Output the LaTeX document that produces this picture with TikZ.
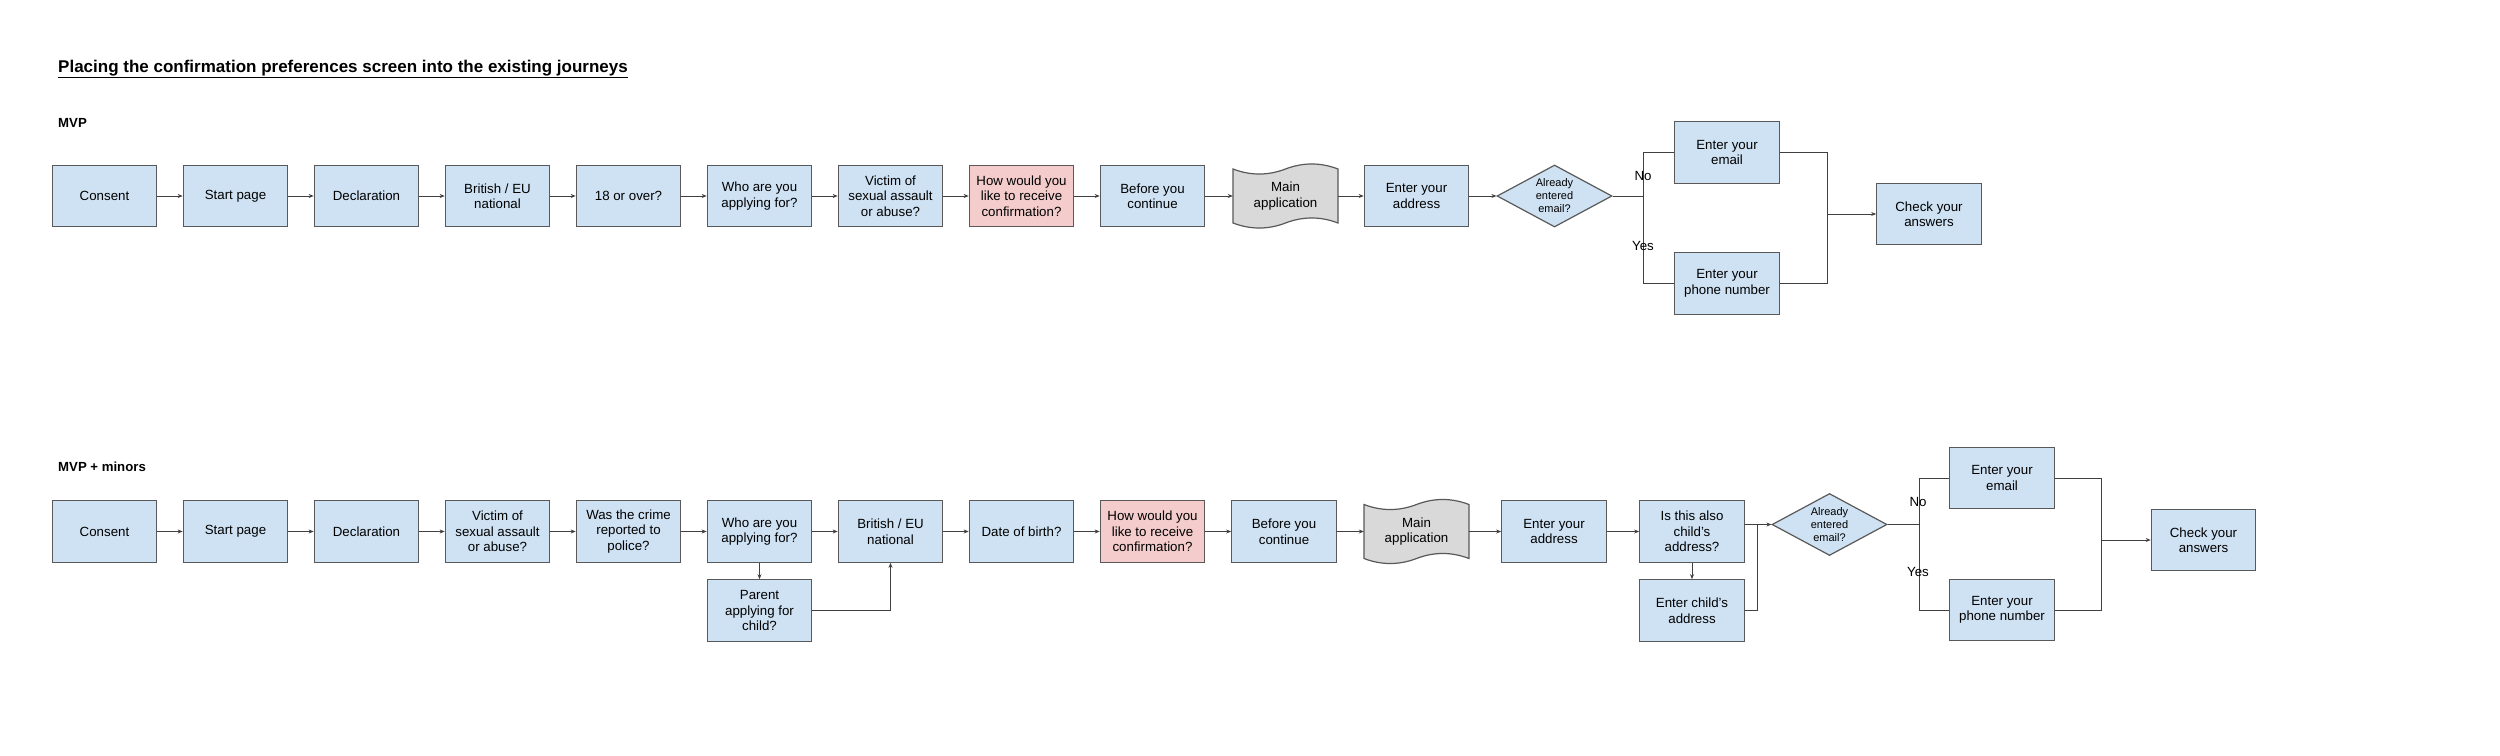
\documentclass[tikz,border=0pt]{standalone}
\usepackage{fontspec}
\setmainfont{Liberation Sans}
\usetikzlibrary{arrows.meta,shapes.geometric,backgrounds,calc}
\definecolor{boxblue}{HTML}{CFE2F3}
\definecolor{boxred}{HTML}{F4CCCC}
\definecolor{boxgray}{HTML}{D9D9D9}
\definecolor{edgegray}{HTML}{595959}
\definecolor{linecol}{HTML}{404040}
\begin{document}
\begin{tikzpicture}[x=1pt,y=-1pt,
  box/.style={rectangle, draw=edgegray, line width=1.2pt, fill=boxblue, minimum width=104.5pt, minimum height=61.5pt, inner sep=0pt, align=center, font=\fontsize{13.3}{15.5}\selectfont},
  redbox/.style={box, fill=boxred},
  tapebox/.style={rectangle, minimum width=105pt, minimum height=62pt, inner sep=0pt, align=center, font=\fontsize{13.3}{15.5}\selectfont},
  dia/.style={diamond, draw=edgegray, line width=1.2pt, fill=boxblue, minimum width=115pt, minimum height=62pt, aspect=1.85, inner sep=0pt, align=center, font=\fontsize{11}{13}\selectfont},
  conn/.style={draw=linecol, line width=1pt},
  arr/.style={conn, -{Stealth[length=5pt,width=4pt]}},
  lbl/.style={font=\fontsize{13.3}{15.5}\selectfont, inner sep=0pt},
  head/.style={font=\bfseries\fontsize{13.2}{15}\selectfont, inner sep=0pt, anchor=base west},
  tapeshape/.style={draw=edgegray, line width=1.2pt, fill=boxgray}
]
\useasboundingbox (0,0) rectangle (2500,755);
\begin{scope}[on background layer]
\fill[white] (0,0) rectangle (2500,755);
\end{scope}

% titles
\node[font=\bfseries\fontsize{17}{20}\selectfont, inner sep=0pt, anchor=base west] (title) at (58,72) {\underline{Placing the confirmation preferences screen into the existing journeys}};
\node[head] (mvp) at (58,127) {MVP};
\node[head] (mvpm) at (58,471) {MVP + minors};

% ---------- Row 1: MVP ----------
\node[box] (c1) at (104.5,196) {Consent};
\node[box] (s1) at (235.5,196) {Start page};
\node[box] (de1) at (366.5,196) {Declaration};
\node[box] (br1) at (497.5,196) {British / EU\\national};
\node[box] (ov1) at (628.5,196) {18 or over?};
\node[box] (wh1) at (759.5,196) {Who are you\\applying for?};
\node[box] (vi1) at (890.5,196) {Victim of\\sexual assault\\or abuse?};
\node[redbox] (ho1) at (1021.5,196) {How would you\\like to receive\\confirmation?};
\node[box] (be1) at (1152.5,196) {Before you\\continue};
\node[tapebox] (ma1) at (1285.5,196) {Main\\application};
\node[box] (ad1) at (1416.5,196) {Enter your\\address};
\node[dia] (d1) at (1554.5,196) {Already\\entered\\email?};
\node[box] (em1) at (1727,152.5) {Enter your\\email};
\node[box] (ph1) at (1727,283.5) {Enter your\\phone number};
\node[box] (ck1) at (1929,214) {Check your\\answers};
\coordinate (b1) at (1643,196);
\coordinate (m1) at (1827,214);

\draw[arr] (c1) -- (s1);
\draw[arr] (s1) -- (de1);
\draw[arr] (de1) -- (br1);
\draw[arr] (br1) -- (ov1);
\draw[arr] (ov1) -- (wh1);
\draw[arr] (wh1) -- (vi1);
\draw[arr] (vi1) -- (ho1);
\draw[arr] (ho1) -- (be1);
\draw[arr] (be1) -- (ma1);
\draw[arr] (ma1) -- (ad1);
\draw[arr] (ad1) -- (d1);
\draw[conn] (d1.east) -- (b1);
\draw[conn] (b1) |- (em1.west);
\draw[conn] (b1) |- (ph1.west);
\draw[conn] (em1.east) -| (m1);
\draw[conn] (ph1.east) -| (m1);
\draw[arr] (m1) -- (ck1.west);
\node[lbl] (no1) at (1643,176) {No};
\node[lbl] (yes1) at (1643,246) {Yes};

% ---------- Row 2: MVP + minors ----------
\node[box] (c2) at (104.5,531.5) {Consent};
\node[box] (s2) at (235.5,531.5) {Start page};
\node[box] (de2) at (366.5,531.5) {Declaration};
\node[box] (vi2) at (497.5,531.5) {Victim of\\sexual assault\\or abuse?};
\node[box] (wa2) at (628.5,531.5) {Was the crime\\reported to\\police?};
\node[box] (wh2) at (759.5,531.5) {Who are you\\applying for?};
\node[box] (br2) at (890.5,531.5) {British / EU\\national};
\node[box] (da2) at (1021.5,531.5) {Date of birth?};
\node[redbox] (ho2) at (1152.5,531.5) {How would you\\like to receive\\confirmation?};
\node[box] (be2) at (1284,531.5) {Before you\\continue};
\node[tapebox] (ma2) at (1416.5,531.5) {Main\\application};
\node[box] (ad2) at (1554,531.5) {Enter your\\address};
\node[box] (is2) at (1692,531.5) {Is this also\\child's\\address?};
\node[box] (ch2) at (1692,610.5) {Enter child's\\address};
\node[box] (pa2) at (759.5,610.5) {Parent\\applying for\\child?};
\node[dia] (d2) at (1829.5,524.5) {Already\\entered\\email?};
\node[box] (em2) at (2002,478) {Enter your\\email};
\node[box] (ph2) at (2002,610) {Enter your\\phone number};
\node[box] (ck2) at (2203.5,540) {Check your\\answers};
\coordinate (j2) at (1757,524.5);
\coordinate (b2) at (1919,524.5);
\coordinate (m2) at (2101.7,540);

\draw[arr] (c2) -- (s2);
\draw[arr] (s2) -- (de2);
\draw[arr] (de2) -- (vi2);
\draw[arr] (vi2) -- (wa2);
\draw[arr] (wa2) -- (wh2);
\draw[arr] (wh2) -- (br2);
\draw[arr] (br2) -- (da2);
\draw[arr] (da2) -- (ho2);
\draw[arr] (ho2) -- (be2);
\draw[arr] (be2) -- (ma2);
\draw[arr] (ma2) -- (ad2);
\draw[arr] (ad2) -- (is2);
\draw[arr] (wh2.south) -- (pa2.north);
\draw[arr] (pa2.east) -| (br2.south);
\draw[arr] (is2.south) -- (ch2.north);
\draw[arr] (is2.east |- d2.west) -- (d2.west);
\draw[conn] (ch2.east) -| (j2);
\draw[conn] (d2.east) -- (b2);
\draw[conn] (b2) |- (em2.west);
\draw[conn] (b2) |- (ph2.west);
\draw[conn] (em2.east) -| (m2);
\draw[conn] (ph2.east) -| (m2);
\draw[arr] (m2) -- (ck2.west);
\node[lbl] (no2) at (1918,502) {No};
\node[lbl] (yes2) at (1918,572) {Yes};

% punched-tape shapes for "Main application"
\begin{scope}[on background layer, shift={(ma1.center)}]
\draw[tapeshape] (-52.5,-27) .. controls (-35,-20.3) and (-17.5,-20.3) .. (0,-27) .. controls (17.5,-33.7) and (35,-33.7) .. (52.5,-27) -- (52.5,27) .. controls (35,20.3) and (17.5,20.3) .. (0,27) .. controls (-17.5,33.7) and (-35,33.7) .. (-52.5,27) -- cycle;
\end{scope}
\begin{scope}[on background layer, shift={(ma2.center)}]
\draw[tapeshape] (-52.5,-27) .. controls (-35,-20.3) and (-17.5,-20.3) .. (0,-27) .. controls (17.5,-33.7) and (35,-33.7) .. (52.5,-27) -- (52.5,27) .. controls (35,20.3) and (17.5,20.3) .. (0,27) .. controls (-17.5,33.7) and (-35,33.7) .. (-52.5,27) -- cycle;
\end{scope}
\end{tikzpicture}
\end{document}
